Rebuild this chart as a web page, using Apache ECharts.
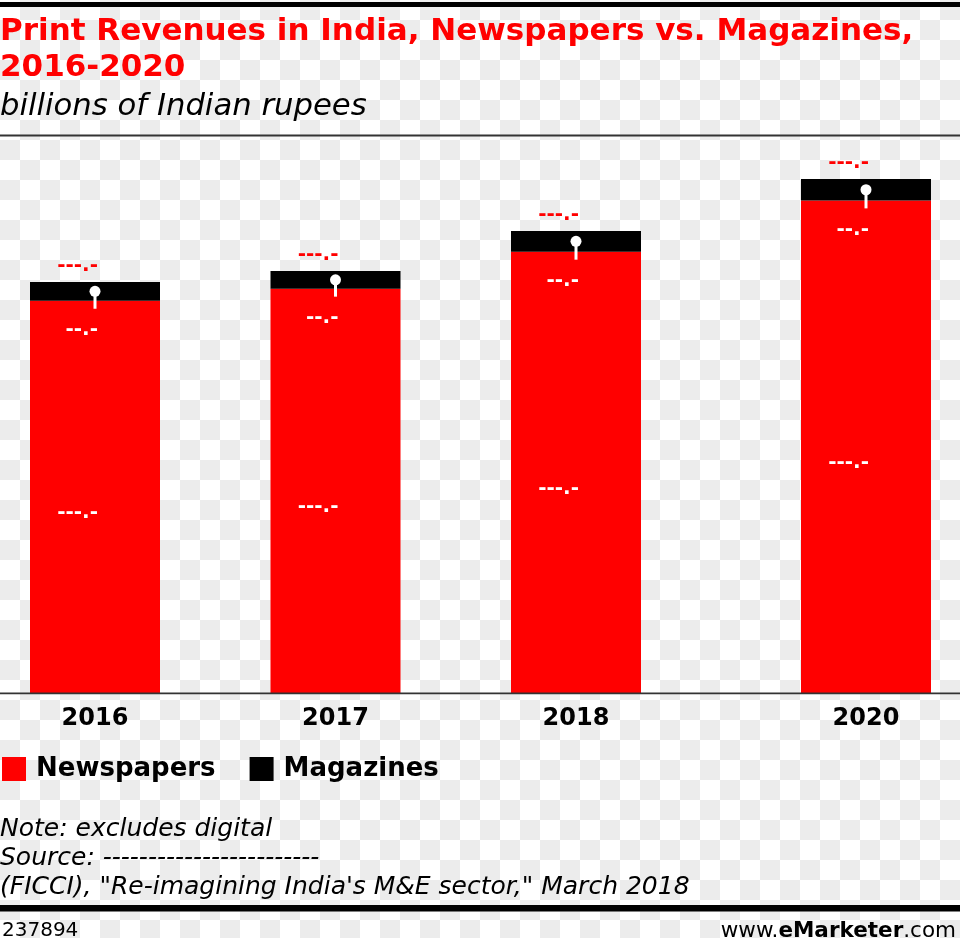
<!DOCTYPE html>
<html>
<head>
<meta charset="utf-8">
<script src="https://cdn.jsdelivr.net/npm/echarts@6/dist/echarts.min.js"></script>
<style>
  html, body { margin: 0; padding: 0; }
  body {
    width: 960px; height: 938px; overflow: hidden;
    background: repeating-conic-gradient(#ececec 0% 25%, #ffffff 0% 50%) 0 0 / 40px 40px;
  }
  #chart { width: 960px; height: 938px; }
</style>
</head>
<body>
<div id="chart"></div>
<script>
// ---- data ----
const years = ['2016', '2017', '2018', '2020'];
const newspapers = [282.2, 290.9, 317.5, 354.4];
const magazines = [13.5, 12.7, 14.9, 15.3];
const totalLabels = ['---.-', '---.-', '---.-', '---.-'];
const newspaperLabels = ['---.-', '---.-', '---.-', '---.-'];
const magazineLabels = ['--.-', '--.-', '--.-', '--.-'];

// ---- layout ----
const RED = '#ff0000';
const FONT = 'DejaVu Sans';
const groups = [[0, 1, 2], [3]];
const grids = [
  { left: 95, width: 481, top: 137, height: 556 },
  { left: 801, width: 130, top: 137, height: 556 }
];
const boundaryGaps = [false, true];

const chart = echarts.init(document.getElementById('chart'), null, { renderer: 'canvas' });

const xAxes = [], yAxes = [], series = [];
groups.forEach((idx, g) => {
  xAxes.push({
    type: 'category', gridIndex: g, boundaryGap: boundaryGaps[g],
    data: idx.map(i => years[i]),
    axisLine: { show: false }, axisTick: { show: false },
    axisLabel: { color: '#000', fontFamily: FONT, fontWeight: 'bold', fontSize: 24, margin: 14 }
  });
  yAxes.push({ type: 'value', gridIndex: g, min: 0, max: 400, show: false, splitLine: { show: false } });
  series.push({
    name: 'Newspapers', type: 'bar', stack: 's' + g, xAxisIndex: g, yAxisIndex: g,
    barWidth: 130, itemStyle: { color: RED },
    data: idx.map(i => newspapers[i]),
    label: {
      show: true, position: 'inside', align: 'right', offset: [3, 16],
      color: '#fff', fontFamily: FONT, fontWeight: 'bold', fontSize: 20,
      formatter: p => newspaperLabels[idx[p.dataIndex]]
    }
  });
  series.push({
    name: 'Magazines', type: 'bar', stack: 's' + g, xAxisIndex: g, yAxisIndex: g,
    barWidth: 130, itemStyle: { color: '#000' },
    data: idx.map(i => magazines[i]),
    label: {
      show: true, position: 'top', distance: 6, align: 'right', offset: [3, 0],
      color: RED, fontFamily: FONT, fontWeight: 'bold', fontSize: 20,
      formatter: p => totalLabels[idx[p.dataIndex]]
    }
  });
  series.push({
    type: 'custom', xAxisIndex: g, yAxisIndex: g, z: 5, silent: true,
    data: idx.map((i, k) => [k, newspapers[i], magazines[i], i]),
    renderItem: (params, api) => {
      const k = api.value(0), n = api.value(1), m = api.value(2);
      const i = api.value(3);
      const top = api.coord([k, n + m]);
      const red = api.coord([k, n]);
      const cx = top[0], cy = (top[1] + red[1]) / 2;
      return {
        type: 'group',
        children: [
          { type: 'rect', shape: { x: cx - 1.5, y: cy, width: 3, height: red[1] + 8 - cy }, style: { fill: '#fff' } },
          { type: 'circle', shape: { cx: cx, cy: cy, r: 5.5 }, style: { fill: '#fff' } },
          { type: 'text', style: {
              text: magazineLabels[i], x: cx + 3, y: red[1] + 29,
              align: 'right', verticalAlign: 'middle',
              fill: '#fff', font: 'bold 20px "DejaVu Sans"'
          } }
        ]
      };
    }
  });
});

chart.setOption({
  animation: false,
  title: [
    { text: 'Print Revenues in India, Newspapers vs. Magazines,\n2016-2020', left: 0, top: 14, padding: 0,
      textStyle: { color: RED, fontFamily: FONT, fontWeight: 'bold', fontSize: 31, lineHeight: 36 } },
    { text: 'billions of Indian rupees', left: 0, top: 92, padding: 0,
      textStyle: { color: '#000', fontFamily: FONT, fontWeight: 'normal', fontStyle: 'italic', fontSize: 30.7, lineHeight: 30 } },
    { text: 'Note: excludes digital\nSource: ------------------------\n(FICCI), "Re-imagining India\'s M&E sector," March 2018',
      left: 0, top: 815, padding: 0,
      textStyle: { color: '#000', fontFamily: FONT, fontWeight: 'normal', fontStyle: 'italic', fontSize: 25, lineHeight: 29 } }
  ],
  legend: {
    data: ['Newspapers', 'Magazines'], left: 2, top: 756, padding: 0,
    icon: 'rect', itemWidth: 24, itemHeight: 24, itemGap: 34,
    textStyle: { color: '#000', fontFamily: FONT, fontWeight: 'bold', fontSize: 26, padding: [0, 0, 0, 5] }
  },
  grid: grids,
  xAxis: xAxes,
  yAxis: yAxes,
  series: series,
  graphic: [
    { type: 'rect', shape: { x: 0, y: 2, width: 960, height: 5 }, style: { fill: '#000' } },
    { type: 'rect', shape: { x: 0, y: 134.5, width: 960, height: 2 }, style: { fill: '#333' } },
    { type: 'rect', shape: { x: 0, y: 692.5, width: 960, height: 1.8 }, style: { fill: '#333' }, z: 10 },
    { type: 'rect', shape: { x: 0, y: 905, width: 960, height: 6.5 }, style: { fill: '#000' } },
    { type: 'text', style: { text: '237894', x: 2, y: 931, verticalAlign: 'middle', fill: '#000', font: '20px "DejaVu Sans"' } },
    { type: 'text', style: {
        text: '{a|www.}{e|e}{b|Marketer}{a|.com}', x: 956, y: 931, align: 'right', verticalAlign: 'middle',
        rich: {
          a: { fontFamily: FONT, fontSize: 21.5, color: '#000' },
          e: { fontFamily: FONT, fontSize: 21.5, fontWeight: 'bold', color: RED },
          b: { fontFamily: FONT, fontSize: 21.5, fontWeight: 'bold', color: '#000' }
        }
    } }
  ]
});
</script>
</body>
</html>
